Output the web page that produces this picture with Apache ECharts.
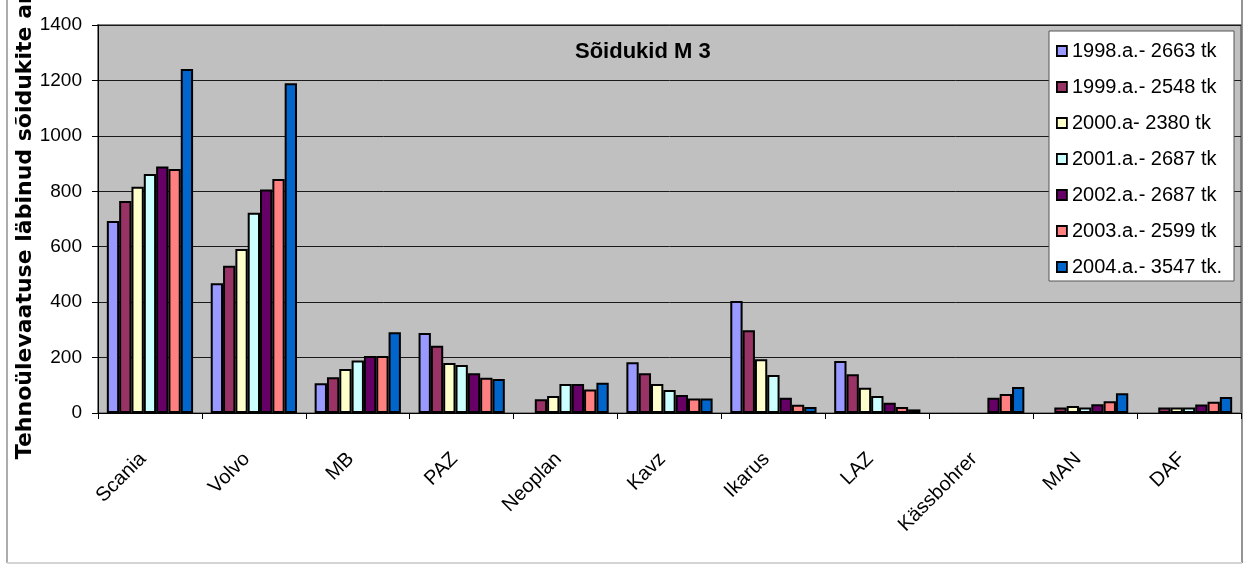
<!DOCTYPE html>
<html>
<head>
<meta charset="utf-8">
<script src="https://cdn.jsdelivr.net/npm/echarts@6/dist/echarts.min.js"></script>
<style>
html,body{margin:0;padding:0;background:#fff;}
#c{width:1246px;height:565px;}
</style>
</head>
<body>
<div id="c"></div>
<script>
var categories = ['Scania','Volvo','MB','PAZ','Neoplan','Kavz','Ikarus','LAZ','Kässbohrer','MAN','DAF'];
var seriesNames = ['1998.a.- 2663 tk','1999.a.- 2548 tk','2000.a- 2380 tk','2001.a.- 2687 tk','2002.a.- 2687 tk','2003.a.- 2599 tk','2004.a.- 3547 tk.'];
var colors = ['#9999FF','#993366','#FFFFCC','#CCFFFF','#660066','#FF8080','#0066CC'];
var v1998 = [693, 468, 107, 289, null, 183, 404, 188, null, null, null];
var v1999 = [765, 531, 129, 243, 50, 143, 299, 140, null, 20, 20];
var v2000 = [816, 592, 159, 180, 61, 105, 194, 91, null, 25, 20];
var v2001 = [862, 723, 189, 173, 105, 83, 137, 61, null, 20, 20];
var v2002 = [889, 806, 206, 143, 105, 65, 55, 37, 55, 32, 31];
var v2003 = [880, 844, 206, 127, 85, 52, 30, 22, 69, 42, 41];
var v2004 = [1241, 1190, 291, 123, 109, 52, 22, 13, 94, 71, 58];
var yTicks = [0, 200, 400, 600, 800, 1000, 1200, 1400];
var titleText = 'Sõidukid M 3';
var yName = 'Tehnoülevaatuse läbinud sõidukite arv';

var values = [v1998, v1999, v2000, v2001, v2002, v2003, v2004];
var series = values.map(function (d, i) {
  return {
    name: seriesNames[i],
    type: 'bar',
    data: d,
    barGap: '0%',
    barCategoryGap: '17%',
    itemStyle: { color: colors[i], borderColor: '#000', borderWidth: 2 },
    emphasis: { disabled: true }
  };
});

var chart = echarts.init(document.getElementById('c'), null, { renderer: 'canvas' });
chart.setOption({
  animation: false,
  backgroundColor: '#ffffff',
  textStyle: { fontFamily: 'Liberation Sans, Arial, sans-serif' },
  title: {
    text: titleText,
    left: 575,
    top: 41,
    padding: 0,
    textStyle: { fontSize: 22, fontWeight: 'bold', color: '#000', fontFamily: 'Liberation Sans, Arial, sans-serif' }
  },
  legend: {
    orient: 'vertical',
    left: 1049,
    top: 31,
    padding: [10, 12, 4, 7],
    itemGap: 16,
    itemWidth: 10,
    itemHeight: 10,
    icon: 'rect',
    backgroundColor: '#ffffff',
    borderColor: '#555555',
    borderWidth: 1,
    data: seriesNames,
    textStyle: { fontSize: 20, color: '#000', fontFamily: 'Liberation Sans, Arial, sans-serif' },
    itemStyle: { borderColor: '#000', borderWidth: 1.8 }
  },
  grid: {
    left: 98,
    right: 5,
    top: 25,
    bottom: 152,
    outerBoundsMode: 'none',
    containLabel: false,
    show: true,
    backgroundColor: '#C0C0C0',
    borderColor: '#808080',
    borderWidth: 2
  },
  xAxis: {
    type: 'category',
    data: categories,
    axisLine: { show: true, lineStyle: { color: '#000', width: 1 } },
    axisTick: { show: true, length: 6, lineStyle: { color: '#000' } },
    axisLabel: { rotate: 45, interval: 0, fontSize: 20, color: '#000', margin: 50, verticalAlign: 'bottom' }
  },
  yAxis: {
    type: 'value',
    min: yTicks[0],
    max: yTicks[yTicks.length - 1],
    interval: 200,
    name: yName,
    nameLocation: 'middle',
    nameGap: 62,
    nameMoveOverlap: false,
    nameTextStyle: { fontSize: 22, fontWeight: 'bold', color: '#000', fontFamily: 'DejaVu Sans' },
    axisLine: { show: true, lineStyle: { color: '#000', width: 1 } },
    axisTick: { show: true, length: 6, lineStyle: { color: '#000' } },
    axisLabel: { fontSize: 19, color: '#000', margin: 16, formatter: function (v) { return String(v); } },
    splitLine: { show: true, lineStyle: { color: '#1a1a1a', width: 1 } }
  },
  graphic: [
    { type: 'line', shape: { x1: 7, y1: 0, x2: 7, y2: 563 }, style: { stroke: '#909090', lineWidth: 1.5 }, silent: true },
    { type: 'line', shape: { x1: 1242, y1: 0, x2: 1242, y2: 563 }, style: { stroke: '#707070', lineWidth: 1.5 }, silent: true },
    { type: 'line', shape: { x1: 7, y1: 563, x2: 1242, y2: 563 }, style: { stroke: '#d4d4d4', lineWidth: 2 }, silent: true }
  ],
  series: series
});
</script>
</body>
</html>
